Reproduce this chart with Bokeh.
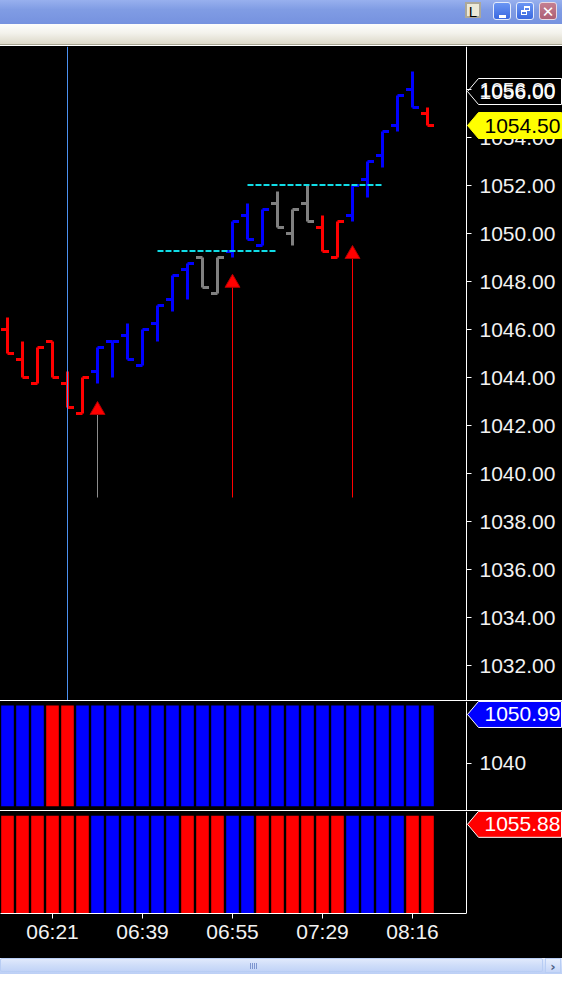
from bokeh.plotting import figure
from bokeh.layouts import column
from bokeh.models import (Div, Range1d, FixedTicker, SingleIntervalTicker, LinearAxis,
                          PrintfTickFormatter, Span, ColumnDataSource)
from bokeh.core.properties import value
from bokeh.embed import file_html
from bokeh.resources import INLINE

# ---------------- data ----------------
bar_index = list(range(29))
opens  = [1046.00, 1044.75, 1043.75, 1045.50, 1043.75, 1042.50, 1044.25, 1045.50, 1045.75, 1044.50,
          1046.25, 1047.25, 1048.50, 1049.00, 1047.50, 1049.25, 1050.75, 1049.50, 1051.25, 1050.00,
          1051.25, 1050.25, 1049.00, 1050.75, 1052.25, 1053.25, 1054.50, 1056.00, 1055.00]
highs  = [1046.50, 1045.50, 1045.25, 1045.50, 1044.25, 1044.00, 1045.25, 1045.50, 1046.25, 1046.00,
          1047.00, 1048.25, 1048.75, 1049.00, 1049.00, 1050.50, 1051.25, 1051.00, 1051.75, 1051.00,
          1052.00, 1050.75, 1050.50, 1052.00, 1053.00, 1054.25, 1055.75, 1056.75, 1055.25]
lows   = [1045.00, 1044.00, 1043.75, 1044.00, 1042.75, 1042.50, 1043.75, 1044.00, 1044.75, 1044.50,
          1045.50, 1046.75, 1047.25, 1047.75, 1047.50, 1049.00, 1049.75, 1049.50, 1050.25, 1049.50,
          1050.50, 1049.25, 1049.00, 1050.50, 1051.50, 1052.75, 1054.25, 1055.25, 1054.50]
closes = [1045.00, 1044.00, 1045.25, 1044.00, 1042.75, 1044.00, 1045.25, 1045.50, 1044.75, 1046.00,
          1047.00, 1048.25, 1048.75, 1047.75, 1049.00, 1050.50, 1049.75, 1051.00, 1050.25, 1051.00,
          1050.50, 1049.25, 1050.50, 1052.00, 1053.00, 1054.25, 1055.75, 1055.25, 1054.50]
bar_colors = (["#FF0000"] * 6 + ["#0000FF"] * 7 + ["#808080"] * 2 + ["#0000FF"] * 3 +
              ["#808080"] * 3 + ["#FF0000"] * 2 + ["#0000FF"] * 5 + ["#FF0000"])

time_tick_bars = [3, 9, 15, 21, 27]
time_tick_labels = ["06:21", "06:39", "06:55", "07:29", "08:16"]

cursor_bar = 4

level_start = [10, 16]
level_end = [18, 25]
level_price = [1049.25, 1052.00]

arrow_bars = [6, 15, 23]
arrow_tips = [1043.00, 1048.30, 1049.50]
arrow_base = [1039.00, 1039.00, 1039.00]
arrow_line_colors = ["#8C8C8C", "#FF0000", "#FF0000"]

last_price = 1054.50
marker_price = 1056.00

panel1_colors = ["#0000FF"] * 3 + ["#FF0000"] * 2 + ["#0000FF"] * 24
panel1_top = [1053.0] * 29
panel1_bottom = [1030.4] * 29
panel1_tag = 1050.99
panel1_ticks = [1040]

panel2_colors = (["#FF0000"] * 6 + ["#0000FF"] * 6 + ["#FF0000"] * 3 + ["#0000FF"] * 2 +
                 ["#FF0000"] * 6 + ["#0000FF"] * 4 + ["#FF0000"] * 2)
panel2_top = [1058.4] * 29
panel2_bottom = [1030.0] * 29
panel2_tag = 1055.88

# ---------------- layout constants ----------------
FONT = "Liberation Sans"
W = 562
PX_PER_BAR = 15.0
X_START = -7.0 / PX_PER_BAR                 # bar 0 centred 7 px from the left edge
AXIS_X = X_START + 466.0 / PX_PER_BAR       # price axis line position (bar units)
X_RANGE = Range1d(X_START, X_START + W / PX_PER_BAR)
LABEL_COLOR = "#F2F2F2"

MAIN_H = 654
P1_H = 109
P2_FRAME_H = 102
P2_AXIS_H = 45
BLACK_BG = {"background-color": "black"}


def base_fig(height, y0, y1, bottom=0, xaxis=None):
    f = figure(width=W, height=height, x_range=X_RANGE, y_range=Range1d(y0, y1),
               output_backend="svg", toolbar_location=None,
               x_axis_location=xaxis, y_axis_location=None,
               background_fill_color="black", border_fill_color="black",
               outline_line_color=None, min_border_left=0, min_border_right=0,
               min_border_top=0, min_border_bottom=bottom, styles=BLACK_BG)
    f.xgrid.visible = False
    f.ygrid.visible = False
    ax = LinearAxis(fixed_location=AXIS_X)
    ax.axis_line_color = "white"
    ax.axis_line_width = 1
    ax.major_tick_line_color = "white"
    ax.major_tick_out = 5
    ax.major_tick_in = 0
    ax.minor_tick_line_color = None
    ax.major_label_text_color = LABEL_COLOR
    ax.major_label_text_font = FONT
    ax.major_label_text_font_size = "21px"
    ax.major_label_standoff = 8
    f.add_layout(ax, "right")
    return f, ax


def add_tag(f, price, text, px_per_unit, fill, line, text_color, text_dx=18, text_dy=0):
    xpp = 1.0 / PX_PER_BAR
    hh = 13.0 / px_per_unit
    tip, left, right = AXIS_X + 1.0 * xpp, AXIS_X + 12.0 * xpp, AXIS_X + 95.0 * xpp
    f.patch(x=[tip, left, right, right, left], y=[price, price + hh, price + hh, price - hh, price - hh],
            fill_color=fill if fill else "black", fill_alpha=1.0 if fill else 0.0,
            line_color=line, line_width=1, level="overlay")
    f.text(x=[AXIS_X + text_dx * xpp], y=[price - text_dy / px_per_unit], text=[text],
           text_color=text_color, text_font=value(FONT), text_font_size="21px",
           text_baseline="middle", text_align="left", level="overlay")


# ---------------- main price panel ----------------
ppu = 24.0
Y1 = 1056.0 + 43.0 / ppu
Y0 = Y1 - MAIN_H / ppu
p, pax = base_fig(MAIN_H, Y0, Y1)
pax.ticker = SingleIntervalTicker(interval=2, num_minor_ticks=0)
pax.formatter = PrintfTickFormatter(format="%.2f")

p.add_layout(Span(location=cursor_bar, dimension="height", line_color="#4B90F0", line_width=1))

tick_off = 6.5 / PX_PER_BAR
src = ColumnDataSource(dict(
    x=bar_index, xl=[i - tick_off for i in bar_index], xr=[i + tick_off for i in bar_index],
    o=opens, h=highs, l=lows, c=closes, color=bar_colors))
p.segment(x0="x", y0="l", x1="x", y1="h", source=src, line_color="color", line_width=3)
p.segment(x0="xl", y0="o", x1="x", y1="o", source=src, line_color="color", line_width=3)
p.segment(x0="x", y0="c", x1="xr", y1="c", source=src, line_color="color", line_width=3)

level_y = [v + 0.5 / ppu for v in level_price]   # half-pixel nudge for a crisp 2 px dash
p.segment(x0=level_start, y0=level_y, x1=level_end, y1=level_y,
          line_color="#10DCE6", line_width=2, line_dash="6 2")

tri_size = 15
tri_center = [t - (tri_size / 2 * 3 ** 0.5 * 2 / 3) / ppu for t in arrow_tips]
p.segment(x0=arrow_bars, y0=tri_center, x1=arrow_bars, y1=arrow_base,
          line_color=arrow_line_colors, line_width=1)
p.scatter(x=arrow_bars, y=tri_center, marker="triangle", size=tri_size,
          fill_color="#FF0000", line_color="#B00000", line_width=1)

add_tag(p, marker_price - 2 / ppu, f"{marker_price:.2f}", ppu, None, "white", "white", text_dx=13)
add_tag(p, last_price, f"{last_price:.2f}", ppu, "#FFFF00", "#FFFF00", "black")

# ---------------- indicator panel 1 ----------------
P1Y0, P1Y1 = 1029.46, 1053.9
ppu1 = P1_H / (P1Y1 - P1Y0)
p1, p1ax = base_fig(P1_H, P1Y0, P1Y1)
p1ax.ticker = FixedTicker(ticks=panel1_ticks)
p1.vbar(x=bar_index, width=0.84, top=panel1_top, bottom=panel1_bottom,
        fill_color=panel1_colors, line_color=None)
add_tag(p1, panel1_tag, f"{panel1_tag:.2f}", ppu1, "#0000FF", "white", "white")

# ---------------- indicator panel 2 ----------------
P2Y0, P2Y1 = 1030.0, 1059.6
ppu2 = P2_FRAME_H / (P2Y1 - P2Y0)
p2, p2ax = base_fig(P2_FRAME_H + P2_AXIS_H, P2Y0, P2Y1, bottom=P2_AXIS_H, xaxis="below")
p2ax.ticker = FixedTicker(ticks=[])
p2.vbar(x=bar_index, width=0.84, top=panel2_top, bottom=panel2_bottom,
        fill_color=panel2_colors, line_color=None)
add_tag(p2, panel2_tag, f"{panel2_tag:.2f}", ppu2, "#FF0000", "white", "white")
xa = p2.xaxis[0]
xa.bounds = (X_START, AXIS_X)
xa.ticker = FixedTicker(ticks=time_tick_bars)
xa.major_label_overrides = {b: t for b, t in zip(time_tick_bars, time_tick_labels)}
xa.axis_line_color = "white"
xa.major_tick_line_color = "white"
xa.major_tick_out = 5
xa.major_tick_in = 0
xa.minor_tick_line_color = None
xa.major_label_text_color = LABEL_COLOR
xa.major_label_text_font = FONT
xa.major_label_text_font_size = "21px"
xa.major_label_standoff = 1

# ---------------- window chrome ----------------
title_html = f"""
<div style="position:relative;width:{W}px;height:24px;overflow:hidden;
 background:linear-gradient(to bottom,#98b0ee 0%,#809ce4 40%,#7692df 100%);">
 <div style="position:absolute;left:465px;top:2px;width:16px;height:16px;background:#ece9d8;
  border:2px solid #aca899;color:#000;font:15px '{FONT}',sans-serif;line-height:16px;text-align:center;">L</div>
 <div style="position:absolute;left:493px;top:2px;width:18px;height:18px;border:1px solid #e4ebfb;border-radius:3px;
  background:linear-gradient(to bottom,#6b96f3,#3a68e0);">
  <div style="position:absolute;left:5px;top:12px;width:7px;height:3px;background:#fff;"></div></div>
 <div style="position:absolute;left:516px;top:2px;width:18px;height:18px;border:1px solid #e4ebfb;border-radius:3px;
  background:linear-gradient(to bottom,#6b96f3,#3a68e0);">
  <div style="position:absolute;left:7px;top:3px;width:6px;height:5px;border:1px solid #fff;border-top-width:2px;"></div>
  <div style="position:absolute;left:4px;top:7px;width:6px;height:5px;border:1px solid #fff;border-top-width:2px;background:#4a78e6;"></div></div>
 <div style="position:absolute;left:539px;top:2px;width:18px;height:18px;border:1px solid #e8d8e0;border-radius:3px;
  background:linear-gradient(to bottom,#c47f92,#ad5f74);color:#fff;font:bold 15px 'DejaVu Sans',sans-serif;
  line-height:18px;text-align:center;">&#x2715;</div>
</div>"""
title_bar = Div(text=title_html, width=W, height=24, margin=0, styles={"overflow": "hidden"})

tool_html = f"""<div style="width:{W}px;height:21px;border-bottom:1px solid #a7a591;
 background:linear-gradient(to bottom,#fdfdfb 0%,#f3f2ec 45%,#dcd8c8 100%);"></div>"""
tool_bar = Div(text=tool_html, width=W, height=22, margin=0, styles={"overflow": "hidden"})


def sep():
    return Div(text="", width=W, height=1, margin=0,
               styles={"background-color": "white", "overflow": "hidden"})


grip = "".join(f'<div style="position:absolute;left:{250 + 2 * k}px;top:5px;width:1px;height:6px;background:#7d95cf;"></div>'
               for k in range(4))
scroll_html = f"""
<div style="position:relative;width:{W}px;height:16px;overflow:hidden;
 background:linear-gradient(to bottom,#e3ebfc 0%,#cddcf9 50%,#bccff6 100%);">
 <div style="position:absolute;left:0;top:0;width:{W - 19}px;height:14px;border:1px solid #b8cdf4;border-radius:2px;"></div>
 {grip}
 <div style="position:absolute;left:{W - 17}px;top:0;width:16px;height:15px;border:1px solid #b8cdf4;
  background:linear-gradient(to bottom,#e6eefd,#c6d6f8);color:#4d6185;font:bold 13px 'DejaVu Sans',sans-serif;
  line-height:15px;text-align:center;">&#x203A;</div>
</div>"""
scroll_bar = Div(text=scroll_html, width=W, height=16, margin=0, styles={"overflow": "hidden"})

layout = column(title_bar, tool_bar, p, sep(), p1, sep(), p2, scroll_bar, spacing=0)

with open("out.html", "w") as fh:
    fh.write(file_html(layout, INLINE, title="chart"))
